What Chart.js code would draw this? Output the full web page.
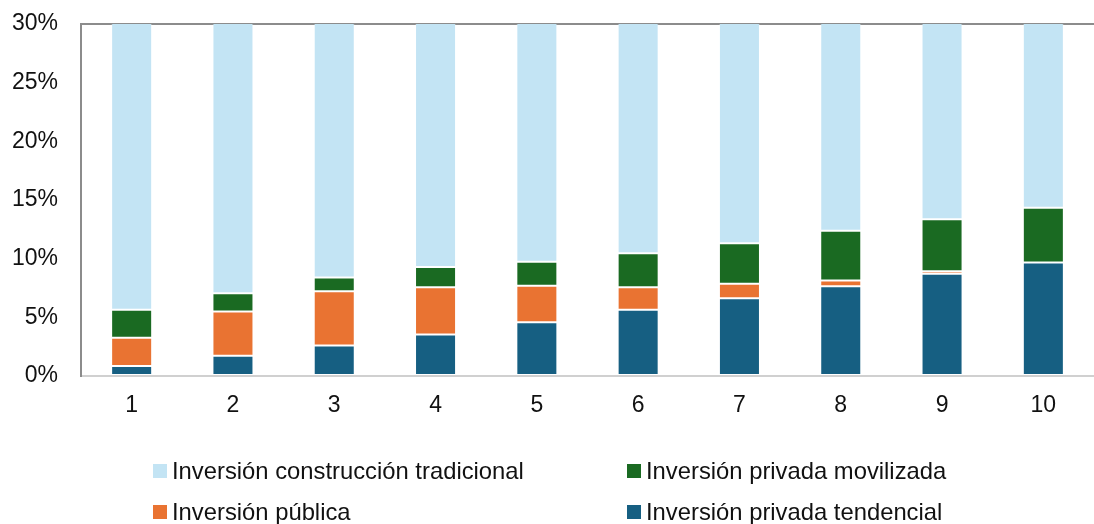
<!DOCTYPE html>
<html>
<head>
<meta charset="utf-8">
<script src="https://cdn.jsdelivr.net/npm/chart.js@4/dist/chart.umd.min.js"></script>
<style>
  html, body { margin: 0; padding: 0; background: #fff; overflow: hidden; }
  #wrap { position: relative; width: 1094px; height: 524px; }
  #legend { position: absolute; left: 0; top: 0; width: 1094px; height: 524px; pointer-events: none;
            font-family: "Liberation Sans", Arial, sans-serif; font-size: 23.8px; color: #111; }
  .item { position: absolute; display: flex; align-items: center; white-space: nowrap; }
  .box { width: 14px; height: 14px; margin-right: 5px; }
</style>
</head>
<body>
<div id="wrap">
  <canvas id="myChart" width="1094" height="430"></canvas>
  <div id="legend"></div>
</div>
<script>
(function () {
  "use strict";

  var years = ["1", "2", "3", "4", "5", "6", "7", "8", "9", "10"];
  var yTicks = [0, 5, 10, 15, 20, 25, 30];

  // % of total (light blue runs past the 30% top)
  var privadaTendencial = [0.85, 1.73, 2.61, 3.53, 4.58, 5.64, 6.63, 7.65, 8.71, 9.67];
  var publica = [2.42, 3.76, 4.62, 4.04, 3.11, 1.93, 1.23, 0.49, 0.22, 0.0];
  var privadaMovilizada = [2.37, 1.57, 1.16, 1.71, 2.05, 2.90, 3.46, 4.24, 4.44, 4.67];
  var construccionTradicional = [94.36, 92.94, 91.61, 90.72, 90.26, 89.53, 88.68, 87.62, 86.63, 85.66];

  var names = {
    trad: "Inversión construcción tradicional",
    movil: "Inversión privada movilizada",
    pub: "Inversión pública",
    tend: "Inversión privada tendencial"
  };
  var colors = {
    trad: "#C3E4F4",
    movil: "#1A6A22",
    pub: "#E97332",
    tend: "#165F82"
  };

  function ds(key, values) {
    return {
      label: names[key],
      data: values,
      backgroundColor: colors[key],
      borderColor: "rgba(255,255,255,0.2)",
      borderWidth: 1,
      borderSkipped: false,
      categoryPercentage: 1,
      barPercentage: 0.405
    };
  }

  var tickFont = { family: "'Liberation Sans', Arial, sans-serif", size: 23 };

  var ctx = document.getElementById("myChart").getContext("2d");
  var myChart = new Chart(ctx, {
    type: "bar",
    data: {
      labels: years,
      datasets: [
        ds("tend", privadaTendencial),
        ds("pub", publica),
        ds("movil", privadaMovilizada),
        ds("trad", construccionTradicional)
      ]
    },
    options: {
      responsive: false,
      animation: false,
      layout: { padding: { top: 24, right: 0, left: 0, bottom: 0 } },
      plugins: { legend: { display: false }, tooltip: { enabled: false } },
      scales: {
        x: {
          stacked: true,
          grid: { display: false, drawTicks: false },
          border: { color: "#D0D0D0", width: 2 },
          ticks: { color: "#111", font: tickFont, padding: 16 },
          afterFit: function (scale) { scale.height = 54; }
        },
        y: {
          stacked: true,
          min: 0,
          max: 30,
          afterBuildTicks: function (scale) {
            scale.ticks = yTicks.map(function (v) { return { value: v }; });
          },
          grid: {
            drawTicks: false,
            lineWidth: 2,
            color: function (c) { return c.tick && c.tick.value === 30 ? "#8C8C8C" : "rgba(0,0,0,0)"; }
          },
          border: { color: "#8C8C8C", width: 2 },
          ticks: {
            color: "#111",
            font: tickFont,
            padding: 23,
            callback: function (v) { return v + "%"; }
          },
          afterFit: function (scale) {
            scale.width = 81;
            scale.paddingTop = 0;
            scale.paddingBottom = 0;
          }
        }
      }
    }
  });

  // legend laid out in two columns like the original
  var legendItems = [
    { key: "trad", x: 153, y: 471 },
    { key: "movil", x: 627, y: 471 },
    { key: "pub", x: 153, y: 512 },
    { key: "tend", x: 627, y: 512 }
  ];
  var legend = document.getElementById("legend");
  legendItems.forEach(function (it) {
    var el = document.createElement("div");
    el.className = "item";
    el.style.left = it.x + "px";
    el.style.top = (it.y - 14) + "px";
    el.style.height = "28px";
    var box = document.createElement("span");
    box.className = "box";
    box.style.background = colors[it.key];
    var txt = document.createElement("span");
    txt.textContent = names[it.key];
    el.appendChild(box);
    el.appendChild(txt);
    legend.appendChild(el);
  });
})();
</script>
</body>
</html>
